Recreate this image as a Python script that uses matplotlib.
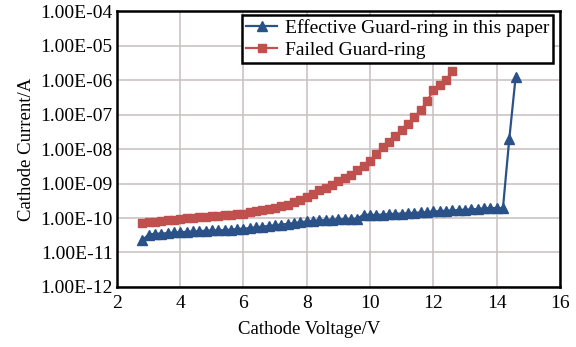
import matplotlib
matplotlib.use("Agg")
import matplotlib.pyplot as plt
from matplotlib.ticker import FixedLocator, FuncFormatter, NullLocator

# Cathode voltage (V) and current (A)
v_eff = [2.8, 3.0, 3.2, 3.4, 3.6, 3.8, 4.0, 4.2, 4.4, 4.6, 4.8, 5.0, 5.2, 5.4, 5.6,
         5.8, 6.0, 6.2, 6.4, 6.6, 6.8, 7.0, 7.2, 7.4, 7.6, 7.8, 8.0, 8.2, 8.4, 8.6,
         8.8, 9.0, 9.2, 9.4, 9.6, 9.8, 10.0, 10.2, 10.4, 10.6, 10.8, 11.0, 11.2,
         11.4, 11.6, 11.8, 12.0, 12.2, 12.4, 12.6, 12.8, 13.0, 13.2, 13.4, 13.6,
         13.8, 14.0, 14.2, 14.4, 14.6]
i_eff = [2.24e-11, 3.31e-11, 3.47e-11, 3.55e-11, 3.63e-11, 3.80e-11, 3.89e-11,
         3.98e-11, 4.07e-11, 4.17e-11, 4.27e-11, 4.37e-11, 4.37e-11, 4.47e-11,
         4.57e-11, 4.79e-11, 4.90e-11, 5.13e-11, 5.37e-11, 5.62e-11, 5.89e-11,
         6.17e-11, 6.46e-11, 6.76e-11, 7.08e-11, 7.59e-11, 7.94e-11, 8.32e-11,
         8.51e-11, 8.71e-11, 8.91e-11, 9.12e-11, 9.33e-11, 9.33e-11, 9.55e-11,
         1.26e-10, 1.23e-10, 1.23e-10, 1.26e-10, 1.29e-10, 1.32e-10, 1.35e-10,
         1.38e-10, 1.41e-10, 1.45e-10, 1.48e-10, 1.55e-10, 1.58e-10, 1.62e-10,
         1.66e-10, 1.70e-10, 1.74e-10, 1.78e-10, 1.82e-10, 1.91e-10, 1.95e-10,
         1.95e-10, 1.91e-10, 1.91e-08, 1.20e-06]

v_fail = [2.8, 3.0, 3.2, 3.4, 3.6, 3.8, 4.0, 4.2, 4.4, 4.6, 4.8, 5.0, 5.2, 5.4,
          5.6, 5.8, 6.0, 6.2, 6.4, 6.6, 6.8, 7.0, 7.2, 7.4, 7.6, 7.8, 8.0, 8.2,
          8.4, 8.6, 8.8, 9.0, 9.2, 9.4, 9.6, 9.8, 10.0, 10.2, 10.4, 10.6, 10.8,
          11.0, 11.2, 11.4, 11.6, 11.8, 12.0, 12.2, 12.4, 12.6]
i_fail = [7.08e-11, 7.41e-11, 7.76e-11, 8.13e-11, 8.51e-11, 8.91e-11, 9.33e-11,
          9.77e-11, 1.02e-10, 1.05e-10, 1.10e-10, 1.12e-10, 1.17e-10, 1.20e-10,
          1.26e-10, 1.29e-10, 1.35e-10, 1.45e-10, 1.58e-10, 1.70e-10, 1.86e-10,
          2.00e-10, 2.19e-10, 2.45e-10, 2.82e-10, 3.39e-10, 4.17e-10, 5.01e-10,
          6.31e-10, 7.59e-10, 9.33e-10, 1.15e-09, 1.41e-09, 1.82e-09, 2.40e-09,
          3.24e-09, 4.37e-09, 7.41e-09, 1.12e-08, 1.58e-08, 2.34e-08, 3.55e-08,
          5.50e-08, 8.51e-08, 1.32e-07, 2.45e-07, 5.01e-07, 7.24e-07, 1.00e-06,
          1.82e-06]

x_ticks = [2, 4, 6, 8, 10, 12, 14, 16]
y_ticks = [1e-12, 1e-11, 1e-10, 1e-9, 1e-8, 1e-7, 1e-6, 1e-5, 1e-4]

plt.rcParams["font.family"] = ["Liberation Serif", "DejaVu Serif"]
plt.rcParams["font.size"] = 14

fig = plt.figure(figsize=(5.76, 3.47), dpi=100)
ax = fig.add_axes([0.203, 0.173, 0.769, 0.795])

ax.plot(v_eff, i_eff, color="#2a5288", marker="^", markersize=7.5, lw=1.6,
        label="Effective Guard-ring in this paper", zorder=3)
ax.plot(v_fail, i_fail, color="#c0504d", marker="s", markersize=6.2, lw=1.6,
        label="Failed Guard-ring", zorder=3)

ax.set_yscale("log")
ax.set_xlim(2, 16)
ax.set_ylim(1e-12, 1e-4)
ax.xaxis.set_major_locator(FixedLocator(x_ticks))
ax.yaxis.set_major_locator(FixedLocator(y_ticks))
ax.yaxis.set_minor_locator(NullLocator())
ax.yaxis.set_major_formatter(FuncFormatter(lambda v, pos: f"{v:.2E}"))
ax.tick_params(length=0)
ax.tick_params(axis="x", pad=6)
ax.tick_params(axis="y", pad=3)

ax.grid(True, color="#cbc3c3", lw=1.2)
ax.set_axisbelow(True)
for s in ax.spines.values():
    s.set_linewidth(1.8)
    s.set_color("black")

ax.set_xlabel("Cathode Voltage/V", fontsize=13.5)
ax.xaxis.set_label_coords(0.433, -0.125)
ax.set_ylabel("Cathode Current/A", fontsize=13.5, labelpad=4)

leg = ax.legend(loc="upper right", bbox_to_anchor=(0.985, 0.985), borderaxespad=0,
                fancybox=False, framealpha=1, edgecolor="black",
                handlelength=1.6, handletextpad=0.4, borderpad=0.2,
                labelspacing=0.22)
leg.get_frame().set_linewidth(1.8)

fig.savefig("out.png", dpi=100)
